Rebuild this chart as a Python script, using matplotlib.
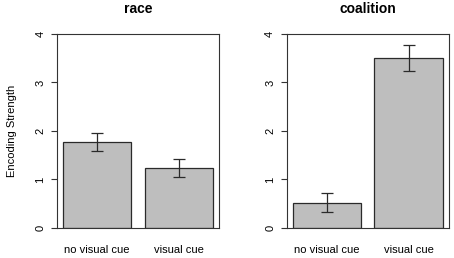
import numpy as np
import matplotlib.pyplot as plt

plt.rcParams['font.family'] = ['Liberation Sans', 'DejaVu Sans']

conditions = ['no visual cue', 'visual cue']
panels = ['race', 'coalition']
means = {'race': [1.77, 1.24], 'coalition': [0.52, 3.50]}
err_hi = {'race': [1.96, 1.43], 'coalition': [0.715, 3.77]}
err_lo = {'race': [1.58, 1.06], 'coalition': [0.33, 3.24]}

fig = plt.figure(figsize=(4.54, 2.58), dpi=100)
lefts = [0.1256, 0.6314]
x = np.array([0.7, 1.9])

for i, name in enumerate(panels):
    ax = fig.add_axes([lefts[i], 0.1163, 0.3568, 0.752])
    m = np.array(means[name])
    hi = np.array(err_hi[name])
    lo = np.array(err_lo[name])
    ax.bar(x, m, width=1.0, color='#bebebe', edgecolor='#2a2a2a', linewidth=0.9)
    ax.errorbar(x, m, yerr=[m - lo, hi - m], fmt='none', ecolor='#2a2a2a',
                elinewidth=0.9, capsize=4.3, capthick=0.9)
    ax.set_xlim(0.112, 2.488)
    ax.set_ylim(0, 4)
    ax.set_yticks([0, 1, 2, 3, 4])
    ax.set_yticklabels(['0', '1', '2', '3', '4'], rotation=90, va='center')
    ax.set_xticks(x)
    ax.set_xticklabels(conditions)
    ax.tick_params(axis='x', length=0, pad=12, labelsize=8)
    ax.tick_params(axis='y', length=4.3, width=0.8, pad=4, labelsize=8, color='#333333')
    for s in ax.spines.values():
        s.set_color('#333333')
        s.set_linewidth(0.8)
    ax.set_title(name, fontsize=10, fontweight='bold', pad=15)
    if i == 0:
        ax.set_ylabel('Encoding Strength', fontsize=8, labelpad=13)

fig.savefig('out.png', dpi=100)
